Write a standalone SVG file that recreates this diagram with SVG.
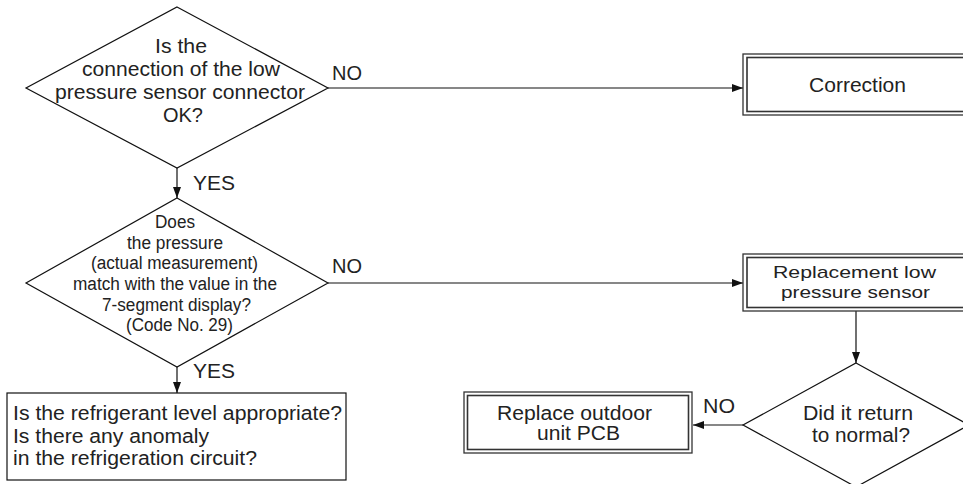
<svg xmlns="http://www.w3.org/2000/svg" width="963" height="484" viewBox="0 0 963 484">
<style>
text{font-family:"Liberation Sans",Arial,sans-serif;fill:#222;text-anchor:middle}
.t{font-size:20px}
.s{font-size:18px}
.r{font-size:17px}
.lbl{font-size:20px;text-anchor:start}
.lft{text-anchor:start}
.shape{fill:#fff;stroke:#111;stroke-width:1.2}
.outer{fill:#fff;stroke:#333;stroke-width:1.3}
.inner{fill:none;stroke:#333;stroke-width:1.6}
.conn{stroke:#111;stroke-width:1.2;fill:none;marker-end:url(#arr)}
</style>
<defs>
<marker id="arr" markerUnits="userSpaceOnUse" markerWidth="12" markerHeight="8" refX="11" refY="4" orient="auto">
<path d="M0,0 L11,4 L0,8 Z" fill="#111"/>
</marker>
</defs>
<rect width="963" height="484" fill="#fff"/>
<g id="connectors">
<line class="conn" x1="328" y1="88" x2="743" y2="88"/>
<line class="conn" x1="177" y1="168" x2="177" y2="198"/>
<line class="conn" x1="328" y1="283" x2="743" y2="283"/>
<line class="conn" x1="177" y1="367" x2="177" y2="393"/>
<line class="conn" x1="856" y1="311" x2="856" y2="363"/>
<line class="conn" x1="743" y1="425" x2="693" y2="425"/>
<text class="lbl" x="332" y="80" textLength="30" lengthAdjust="spacingAndGlyphs">NO</text>
<text class="lbl" x="193" y="190" textLength="42" lengthAdjust="spacingAndGlyphs">YES</text>
<text class="lbl" x="332" y="273" textLength="30" lengthAdjust="spacingAndGlyphs">NO</text>
<text class="lbl" x="193" y="378" textLength="42" lengthAdjust="spacingAndGlyphs">YES</text>
<text class="lbl" x="703" y="413" textLength="32" lengthAdjust="spacingAndGlyphs">NO</text>
</g>
<g id="d1">
<polygon class="shape" points="177,7 328,88 177,168 26,88"/>
<text class="t" x="181" y="53" textLength="52" lengthAdjust="spacingAndGlyphs">Is the</text>
<text class="t" x="181" y="76" textLength="198" lengthAdjust="spacingAndGlyphs">connection of the low</text>
<text class="t" x="180" y="99" textLength="250" lengthAdjust="spacingAndGlyphs">pressure sensor connector</text>
<text class="t" x="183" y="122" textLength="40" lengthAdjust="spacingAndGlyphs">OK?</text>
</g>
<g id="correction">
<rect class="outer" x="743" y="54" width="240" height="61"/>
<rect class="inner" x="747" y="57.5" width="232" height="54"/>
<text class="t" x="857.5" y="92" textLength="97" lengthAdjust="spacingAndGlyphs">Correction</text>
</g>
<g id="d2">
<polygon class="shape" points="177,198 328,283 177,367 26,283"/>
<text class="s" x="175" y="228" textLength="40" lengthAdjust="spacingAndGlyphs">Does</text>
<text class="s" x="175" y="248.5" textLength="96" lengthAdjust="spacingAndGlyphs">the pressure</text>
<text class="s" x="174.5" y="269" textLength="167" lengthAdjust="spacingAndGlyphs">(actual measurement)</text>
<text class="s" x="175" y="290" textLength="204" lengthAdjust="spacingAndGlyphs">match with the value in the</text>
<text class="s" x="176.5" y="311" textLength="149" lengthAdjust="spacingAndGlyphs">7-segment display?</text>
<text class="s" x="179.5" y="331" textLength="107" lengthAdjust="spacingAndGlyphs">(Code No. 29)</text>
</g>
<g id="replacement">
<rect class="outer" x="743" y="254" width="240" height="57"/>
<rect class="inner" x="747" y="257.5" width="232" height="50"/>
<text class="r" x="854.5" y="278" textLength="163" lengthAdjust="spacingAndGlyphs">Replacement low</text>
<text class="r" x="855.5" y="298" textLength="149" lengthAdjust="spacingAndGlyphs">pressure sensor</text>
</g>
<g id="check">
<rect class="shape" x="7" y="393" width="339" height="87"/>
<text class="t lft" x="13" y="420" textLength="329" lengthAdjust="spacingAndGlyphs">Is the refrigerant level appropriate?</text>
<text class="t lft" x="13" y="443" textLength="196" lengthAdjust="spacingAndGlyphs">Is there any anomaly</text>
<text class="t lft" x="13" y="465" textLength="244" lengthAdjust="spacingAndGlyphs">in the refrigeration circuit?</text>
</g>
<g id="d3">
<polygon class="shape" points="856,363 969,425 856,487 743,425"/>
<text class="t" x="858" y="420" textLength="110" lengthAdjust="spacingAndGlyphs">Did it return</text>
<text class="t" x="861" y="442" textLength="98" lengthAdjust="spacingAndGlyphs">to normal?</text>
</g>
<g id="replace-pcb">
<rect class="outer" x="464" y="392" width="228" height="61"/>
<rect class="inner" x="467.5" y="395.5" width="221" height="54"/>
<text class="t" x="574.5" y="420" textLength="155" lengthAdjust="spacingAndGlyphs">Replace outdoor</text>
<text class="t" x="578.5" y="440" textLength="83" lengthAdjust="spacingAndGlyphs">unit PCB</text>
</g>
</svg>
